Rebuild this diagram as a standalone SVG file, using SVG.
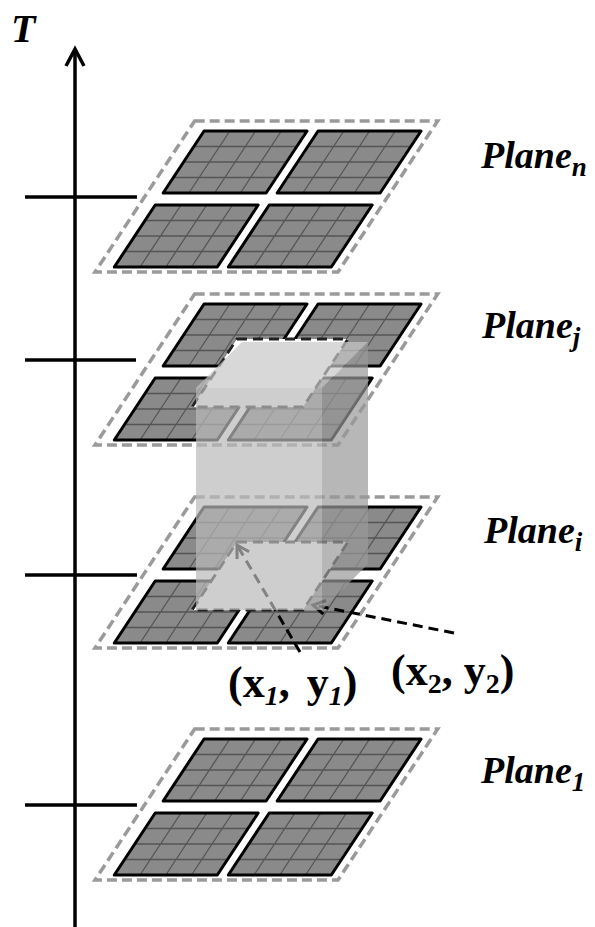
<svg xmlns="http://www.w3.org/2000/svg" width="595" height="927" viewBox="0 0 595 927">
<style>
.lbl{font-family:"Liberation Serif","Times New Roman",serif;font-weight:bold;font-style:italic;fill:#000}
.coord{font-family:"Liberation Serif","Times New Roman",serif;font-weight:bold;font-size:44px;fill:#000}
.tfill{fill:#8a8a8a;stroke:none}
.tborder{fill:none;stroke:#000;stroke-width:3;stroke-linejoin:round;vector-effect:non-scaling-stroke}
.grid{stroke:#555;stroke-width:1.3;fill:none;vector-effect:non-scaling-stroke}
.outline{fill:none;stroke:#9a9a9a;stroke-width:3.5;stroke-dasharray:10 5;vector-effect:non-scaling-stroke}
.region{fill:#fff;stroke:#222;stroke-width:2.8;stroke-dasharray:10 6;vector-effect:non-scaling-stroke}
.axis{stroke:#000;stroke-width:3.5;fill:none}
.ptr{stroke:#000;stroke-width:3;stroke-dasharray:10 6;fill:none}
</style>
<defs>
<marker id="chev" markerUnits="userSpaceOnUse" markerWidth="20" markerHeight="20" refX="15" refY="10" orient="auto" viewBox="0 0 20 20">
<path d="M3,3 L15,10 L3,17" fill="none" stroke="#000" stroke-width="3"/>
</marker>
<g id="tile">
<rect class="tfill" x="0" y="0" width="103" height="62"/>
<path class="grid" d="M25.75,0V62M51.5,0V62M77.25,0V62M0,15.5H103M0,31H103M0,46.5H103"/>
<rect class="tborder" x="0" y="0" width="103" height="62"/>
</g>
<g id="tiles">
<use href="#tile" x="16" y="-141"/>
<use href="#tile" x="130" y="-141"/>
<use href="#tile" x="16" y="-67"/>
<use href="#tile" x="130" y="-67"/>
</g>
</defs>
<rect width="595" height="927" fill="#fff"/>

<g id="plane-1" transform="matrix(1 0 -0.66 1 95 880)">
<use href="#tiles"/>
<rect class="outline" x="0" y="-151" width="243" height="151"/>
</g>
<g id="plane-i" transform="matrix(1 0 -0.66 1 95 648)">
<use href="#tiles"/>
<rect class="outline" x="0" y="-151" width="243" height="151"/>
<rect class="region" x="72" y="-106" width="111" height="68"/>
</g>
<g id="plane-j" transform="matrix(1 0 -0.66 1 95 445)">
<use href="#tiles"/>
<rect class="outline" x="0" y="-151" width="243" height="151"/>
<rect class="region" x="72" y="-106" width="111" height="68"/>
</g>
<g id="plane-n" transform="matrix(1 0 -0.66 1 95 272)">
<use href="#tiles"/>
<rect class="outline" x="0" y="-151" width="243" height="151"/>
</g>

<g id="connectors">
<line class="axis" x1="75" y1="927" x2="75" y2="50"/>
<path class="axis" d="M66,66 L75,49 L84,66" stroke-linejoin="miter"/>
<line class="axis" x1="25" y1="197" x2="137" y2="197"/>
<line class="axis" x1="25" y1="360" x2="136" y2="360"/>
<line class="axis" x1="25" y1="575" x2="137" y2="575"/>
<line class="axis" x1="25" y1="805" x2="137" y2="805"/>
<line class="ptr" x1="300" y1="652" x2="237" y2="545" marker-end="url(#chev)"/>
<line class="ptr" x1="454" y1="633" x2="313" y2="605" marker-end="url(#chev)"/>
</g>

<g id="cube">
<polygon points="196,388 322,388 322,610 196,610" fill="#b9b9b9" fill-opacity="0.7"/>
<polygon points="196,388 242,342 368,342 322,388" fill="#c8c8c8" fill-opacity="0.7"/>
<polygon points="322,388 368,342 368,564 322,610" fill="#989898" fill-opacity="0.7"/>
</g>

<g id="label-T"><text class="lbl" x="11" y="42" font-size="40">T</text></g>
<g id="label-plane-n"><text class="lbl" x="481" y="168" font-size="38">Plane<tspan font-size="27" dy="8">n</tspan></text></g>
<g id="label-plane-j"><text class="lbl" x="482" y="338" font-size="38">Plane<tspan font-size="27" dy="8">j</tspan></text></g>
<g id="label-plane-i"><text class="lbl" x="484" y="543" font-size="38">Plane<tspan font-size="27" dy="8">i</tspan></text></g>
<g id="label-plane-1"><text class="lbl" x="481" y="783" font-size="38">Plane<tspan font-size="27" dy="8">1</tspan></text></g>
<g id="label-xy1"><text class="coord" x="228" y="697" word-spacing="6">(x<tspan font-style="italic" font-size="28" dy="8">1</tspan><tspan dy="-8">, y</tspan><tspan font-style="italic" font-size="28" dy="8">1</tspan><tspan dy="-8">)</tspan></text></g>
<g id="label-xy2"><text class="coord" x="391" y="685">(x<tspan font-size="28" dy="8">2</tspan><tspan dy="-8">, y</tspan><tspan font-size="28" dy="8">2</tspan><tspan dy="-8">)</tspan></text></g>
</svg>
